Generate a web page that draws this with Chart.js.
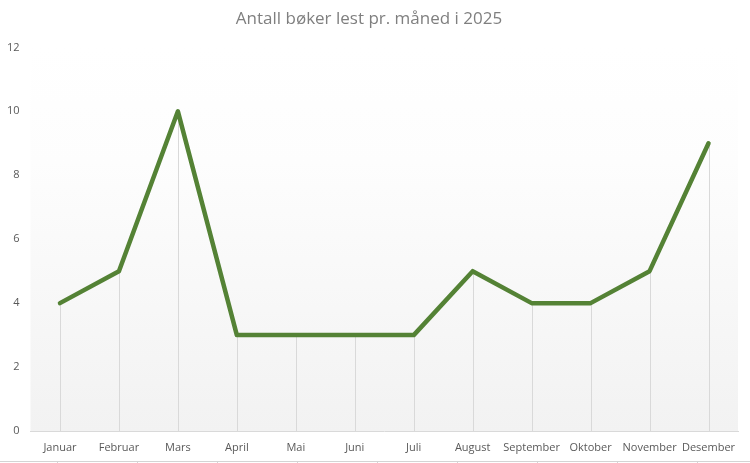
<!DOCTYPE html>
<html>
<head>
<meta charset="utf-8">
<script src="https://cdn.jsdelivr.net/npm/chart.js@4.4.1/dist/chart.umd.min.js"></script>
<style>
  html, body { margin: 0; padding: 0; background: #fff; }
  #wrap { width: 750px; height: 463px; }
</style>
</head>
<body>
<div id="wrap"><canvas id="lineChart"></canvas></div>
<script>
var months = ['Januar', 'Februar', 'Mars', 'April', 'Mai', 'Juni', 'Juli', 'August', 'September', 'Oktober', 'November', 'Desember']
var books = [4, 5, 10, 3, 3, 3, 3, 5, 4, 4, 5, 9]
var yTicks = [0, 2, 4, 6, 8, 10, 12]

// plot area gradient + drop lines from each point
var dropLines = {
  id: 'dropLines',
  beforeDatasetsDraw: function (chart) {
    var ctx = chart.ctx
    var a = chart.chartArea
    var g = ctx.createLinearGradient(0, a.top, 0, a.bottom)
    g.addColorStop(0, '#ffffff')
    g.addColorStop(0.3, '#fdfdfd')
    g.addColorStop(1, '#f2f2f2')
    ctx.save()
    ctx.fillStyle = g
    ctx.fillRect(a.left, a.top, a.right - a.left, a.bottom - a.top)
    ctx.strokeStyle = '#d9d9d9'
    ctx.lineWidth = 1
    var pts = chart.getDatasetMeta(0).data
    pts.forEach(function (p) {
      var x = Math.round(p.x) + 0.5
      ctx.beginPath()
      ctx.moveTo(x, p.y)
      ctx.lineTo(x, a.bottom)
      ctx.stroke()
    })
    ctx.restore()
  },
  afterDraw: function (chart) {
    // sheet cell border visible under the chart
    var ctx = chart.ctx
    ctx.save()
    ctx.strokeStyle = '#d4d4d4'
    ctx.lineWidth = 1
    ctx.beginPath()
    ctx.moveTo(0, 461.5)
    ctx.lineTo(750, 461.5)
    for (var x = 57; x < 750; x += 80) {
      ctx.moveTo(x + 0.5, 461.5)
      ctx.lineTo(x + 0.5, 463)
    }
    ctx.stroke()
    ctx.restore()
  }
}

var lineChart = new Chart(document.getElementById('lineChart').getContext('2d'), {
  type: 'line',
  data: {
    labels: months,
    datasets: [
      {
        data: books,
        borderColor: '#548235',
        borderWidth: 4.5,
        borderCapStyle: 'round',
        borderJoinStyle: 'round',
        pointRadius: 0,
        tension: 0,
        fill: false
      }
    ]
  },
  options: {
    responsive: true,
    maintainAspectRatio: false,
    animation: false,
    layout: { padding: { left: 0, right: 12, top: 0, bottom: 0 } },
    plugins: {
      legend: { display: false },
      tooltip: { enabled: false },
      title: {
        display: true,
        text: 'Antall bøker lest pr. måned i 2025',
        color: '#7f7f7f',
        font: { family: 'Open Sans', size: 17, weight: 'normal' },
        padding: { top: 9, bottom: 18 }
      }
    },
    scales: {
      x: {
        offset: true,
        grid: { display: false },
        border: { display: true, color: '#d9d9d9' },
        ticks: {
          color: '#595959',
          font: { family: 'Open Sans', size: 11 },
          padding: 2,
          maxRotation: 0,
          autoSkip: false
        },
        afterFit: function (s) { s.height = 32 }
      },
      y: {
        min: 0,
        max: 12,
        grid: { display: false },
        border: { display: false },
        afterBuildTicks: function (s) { s.ticks = yTicks.map(function (v) { return { value: v } }) },
        ticks: {
          color: '#595959',
          font: { family: 'Open Sans', size: 11 },
          padding: 3
        },
        afterFit: function (s) { s.width = 30.5 }
      }
    }
  },
  plugins: [dropLines]
})
</script>
</body>
</html>
